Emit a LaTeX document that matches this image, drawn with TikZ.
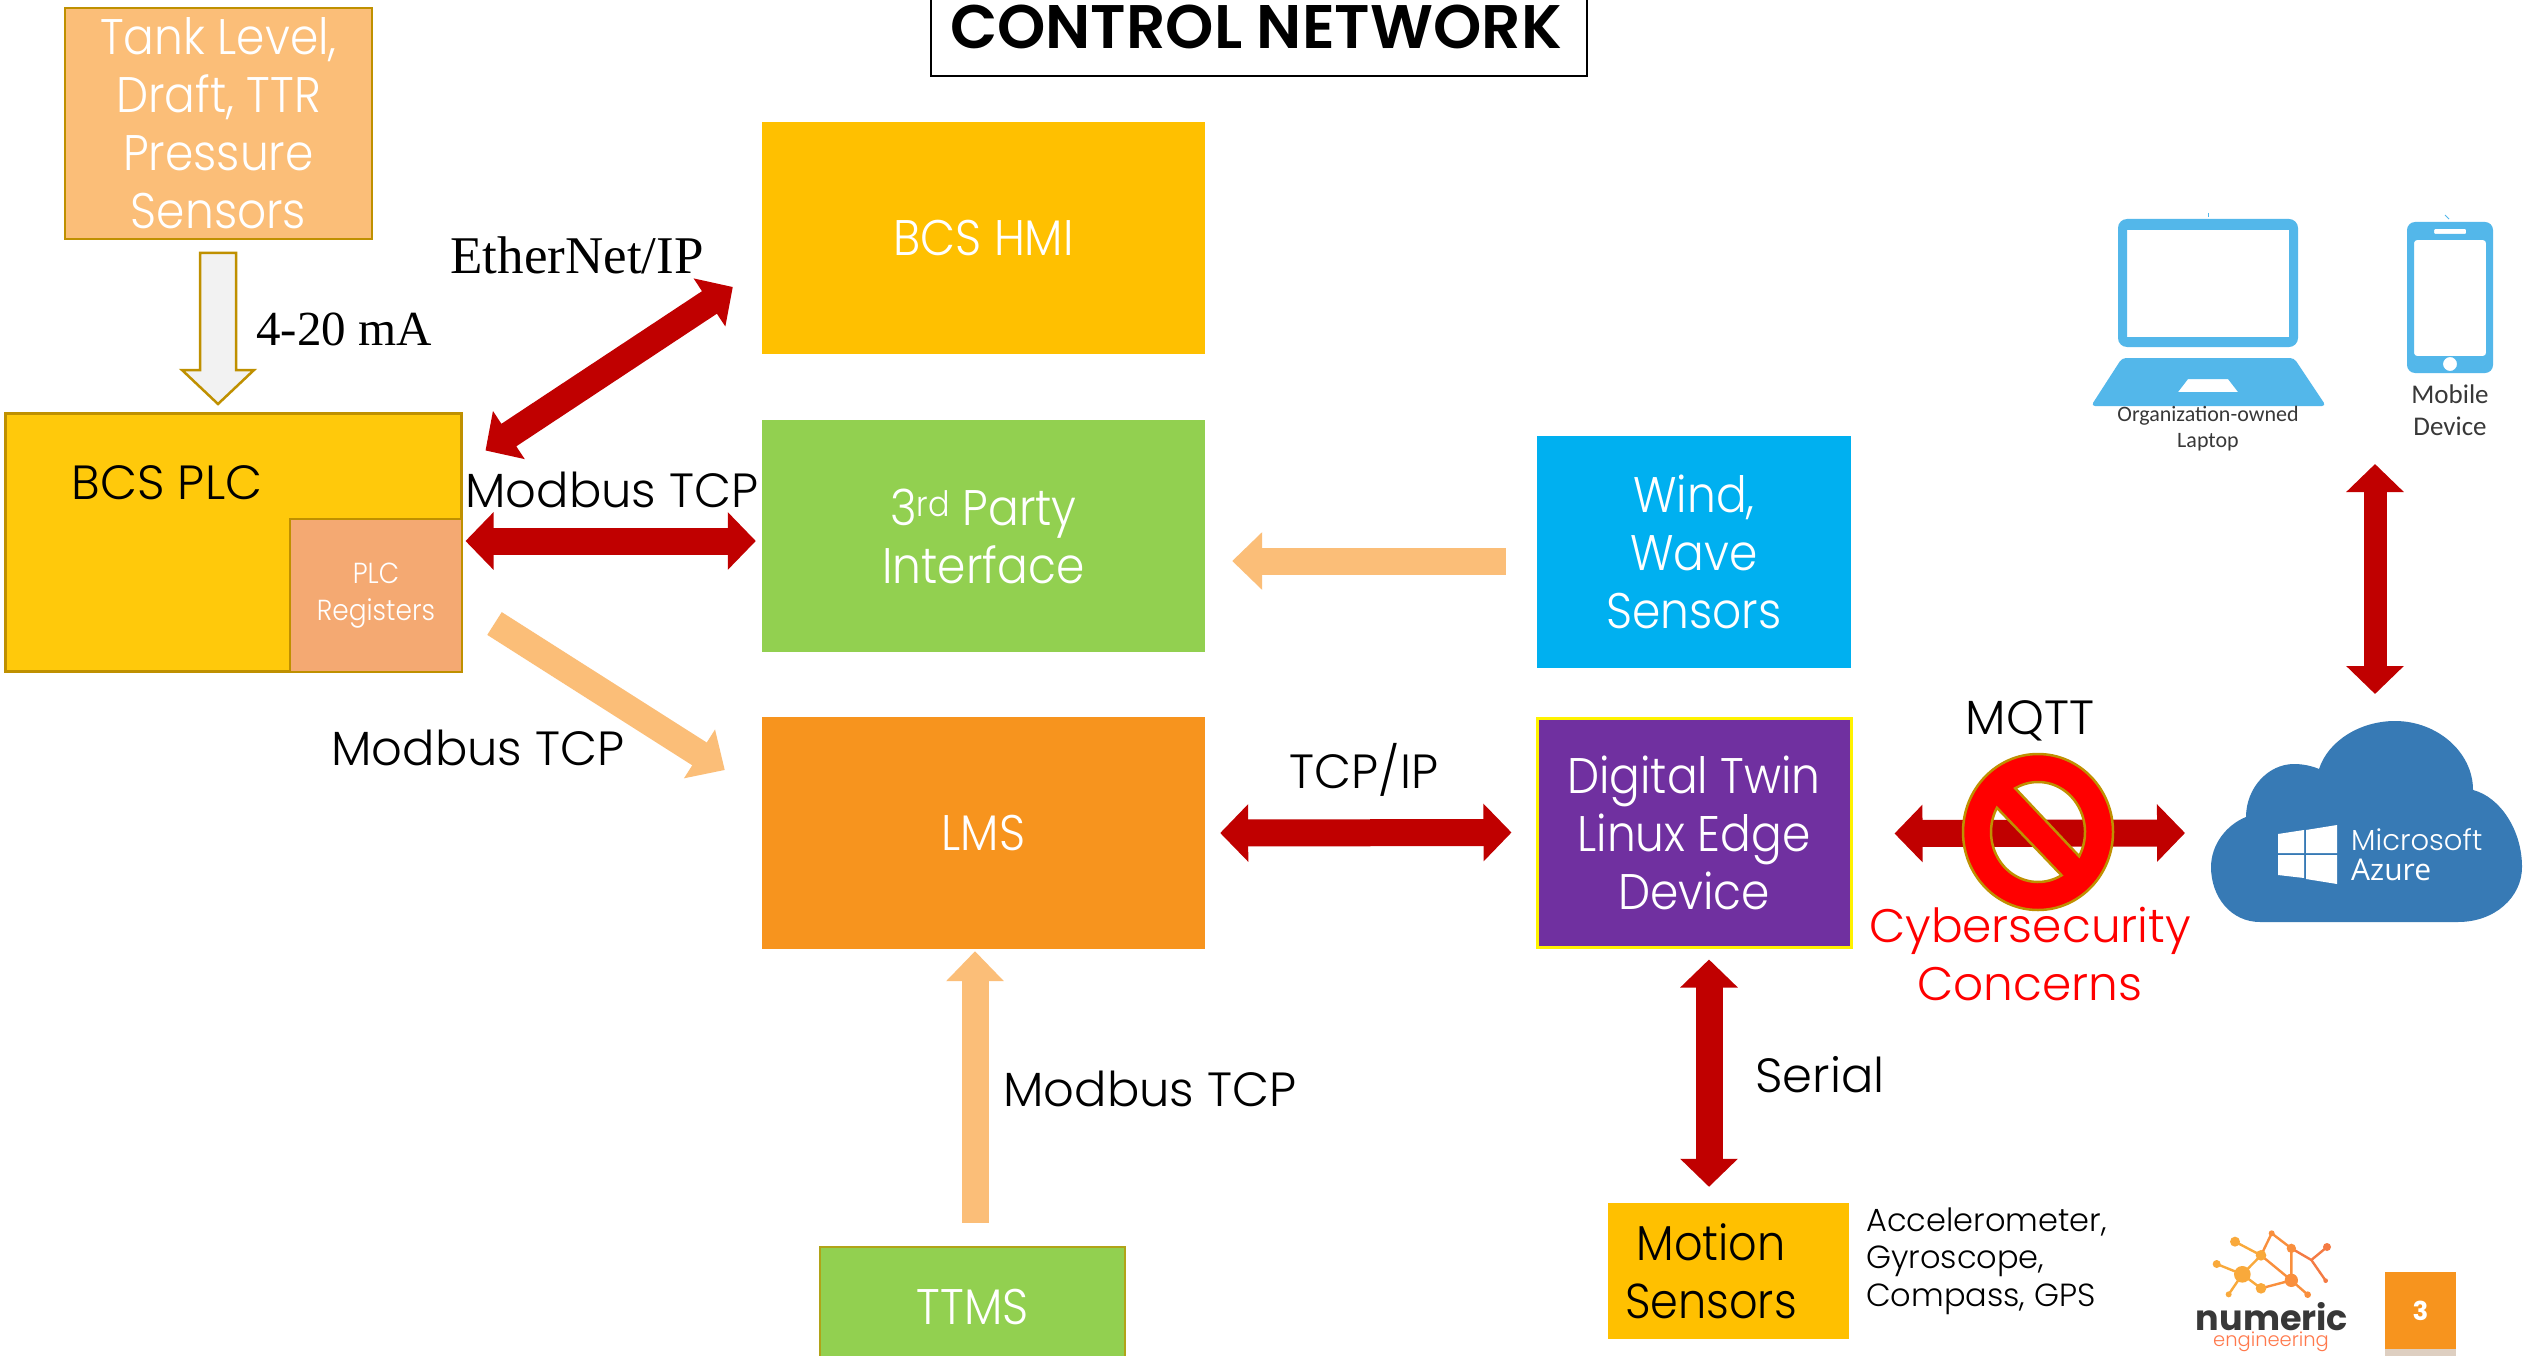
\documentclass[tikz,border=0pt]{standalone}
\usepackage{fontspec}
\usetikzlibrary{arrows.meta,calc}
\setmainfont{Poppins}[UprightFont=* Light,BoldFont=* SemiBold]
\newfontfamily\narrowg{Poppins}[UprightFont=* Light,FakeStretch=0.91]
\newfontfamily\cambriaish{Liberation Serif}
\newfontfamily\calib{Carlito}
\newfontfamily\azfont{Open Sans}
\newfontfamily\boldsans{Poppins}[UprightFont=* Bold]
\newcommand\fsz[2]{\fontsize{#1}{#2}\selectfont}
\definecolor{tankc}{HTML}{FBBE78}
\definecolor{goldb}{HTML}{BF9000}
\definecolor{amber}{HTML}{FFC000}
\definecolor{plcc}{HTML}{FFC90B}
\definecolor{regc}{HTML}{F4A972}
\definecolor{grn}{HTML}{92D050}
\definecolor{lmsc}{HTML}{F7941E}
\definecolor{windc}{HTML}{00B0F0}
\definecolor{purp}{HTML}{7030A0}
\definecolor{dred}{HTML}{C00000}
\definecolor{icon}{HTML}{53B7EA}
\definecolor{cloudc}{HTML}{377AB5}
\tikzset{
  x=1pt,y=-1pt,
  boxn/.style={rectangle,inner sep=0pt,align=center,text=white,font=\narrowg\fsz{50}{58}},
  lab/.style={inner sep=0pt,text=black,font=\fsz{48}{58}},
  serlab/.style={inner sep=0pt,text=black,font=\cambriaish\fsz{50}{58}},
  redarrow/.style={draw=dred,line width=27pt,{Triangle[length=28pt,width=56pt]}-{Triangle[length=28pt,width=56pt]}},
  orarrow/.style={draw=tankc,line width=27pt,-{Triangle[length=30pt,width=56pt]}},
}
\begin{document}
\begin{tikzpicture}
\useasboundingbox (0,0) rectangle (2526,1356);
\clip (0,0) rectangle (2526,1356);
\fill[white] (0,0) rectangle (2526,1356);

% title
\node[rectangle,draw=black,line width=2.5pt,minimum width=656pt,minimum height=116pt,inner sep=0pt] (title) at (1259,18) {};
\node[inner sep=0pt,font=\bfseries\fsz{61.5}{60}] (titletext) at (1256,27) {CONTROL NETWORK};

% boxes
\node[boxn,fill=tankc,draw=goldb,line width=2.5pt,minimum width=307pt,minimum height=231pt] (tank) at (218.5,123.5) {\raisebox{-2pt}{Tank Level,}\\\raisebox{-2pt}{Draft, TTR}\\\raisebox{-2pt}{Pressure}\\\raisebox{-2pt}{Sensors}};
\node[boxn,fill=plcc,draw=goldb,line width=3pt,minimum width=456pt,minimum height=258pt] (plc) at (233,542) {};
\node[boxn,fill=regc,draw=goldb,line width=2.5pt,minimum width=172pt,minimum height=153pt,font=\narrowg\fsz{29}{37}] (reg) at (376,595.5) {\raisebox{-4pt}{PLC}\\\raisebox{-4pt}{Registers}};
\node[lab] (plclabel) at (167,483) {BCS PLC};
\node[boxn,fill=amber,minimum width=443pt,minimum height=232pt] (hmi) at (983.5,238) {\raisebox{-3pt}{BCS HMI}};
\node[boxn,fill=grn,minimum width=443pt,minimum height=232pt] (tp) at (983.5,536) {3\textsuperscript{rd} Party\\Interface};
\node[boxn,fill=lmsc,minimum width=443pt,minimum height=232pt] (lms) at (983.5,833) {\raisebox{-1pt}{LMS}};
\node[boxn,fill=windc,minimum width=314pt,minimum height=232pt] (wind) at (1694,552) {Wind,\\Wave\\Sensors};
\node[boxn,fill=purp,draw=yellow,line width=3pt,minimum width=314pt,minimum height=229pt] (dt) at (1694,832.5) {Digital Twin\\Linux Edge\\Device};
\node[boxn,fill=amber,minimum width=241pt,minimum height=136pt] (motion) at (1728.5,1271) {};
\node[inner sep=0pt,text=black,align=center,font=\narrowg\fsz{49}{58}] (motionlabel) at (1711,1271) {Motion\\Sensors};
\node[boxn,fill=grn,draw=goldb!70!grn,line width=2.5pt,minimum width=305pt,minimum height=123pt] (ttms) at (972.5,1308.5) {\raisebox{3pt}{TTMS}};

% cloud
\path[fill=cloudc] (2260,922) .. controls (2231,922) and (2211,897) .. (2211,867) .. controls (2211,845) and (2226,825) .. (2246,817) .. controls (2246,788) and (2268,764) .. (2294,764) .. controls (2303,764) and (2312,766) .. (2319,769) .. controls (2328,741) and (2360,721) .. (2395,721) .. controls (2437,721) and (2473,752) .. (2473,790) .. controls (2500,797) and (2522,830) .. (2522,867) .. controls (2522,897) and (2495,922) .. (2458,922) -- cycle;
\fill[white] (2278,834) -- (2304,830) -- (2304,853) -- (2278,853) -- cycle;
\fill[white] (2306,830) -- (2337,825) -- (2337,853) -- (2306,853) -- cycle;
\fill[white] (2278,855) -- (2304,855) -- (2304,878) -- (2278,875) -- cycle;
\fill[white] (2306,855) -- (2337,855) -- (2337,884) -- (2306,879) -- cycle;
\node[inner sep=0pt,anchor=west,text=white,font=\fsz{29}{29}] (ms) at (2351,840) {Microsoft};
\node[inner sep=0pt,anchor=west,text=white,font=\azfont\fsz{30}{30}] (azure) at (2351,870) {Azure};
\coordinate (cloudtop) at (2375,721);

% laptop
\fill[icon,even odd rule,rounded corners=9pt] (2118,219) rectangle (2298,347) (2127,230) [sharp corners] rectangle (2289,337);
\fill[icon,even odd rule] [rounded corners=4pt] (2122,358) -- (2294,358) -- (2326,406) -- (2091,406) -- cycle [sharp corners] (2188,379) -- (2228,379) -- (2238,392) -- (2178,392) -- cycle;
\draw[icon,line width=1pt] (2208,213) -- (2208,217);
\node[inner sep=0pt,align=center,text=black!78,font=\calib\fsz{22}{26}] (laptoplabel) at (2208,429) {Organization-owned\\Laptop};
% phone
\fill[icon,even odd rule,rounded corners=8pt] (2407,222) rectangle (2493,373) [rounded corners=3pt] (2414,240) rectangle (2486,356) [rounded corners=1pt] (2434,229) rectangle (2466,234) [sharp corners] (2450,364) circle (7);
\draw[icon,line width=1pt] (2445,215) -- (2449,219);
\node[inner sep=0pt,align=center,text=black!78,font=\calib\fsz{27}{32}] (phonelabel) at (2450,410) {Mobile\\Device};

% logo
\begin{scope}[shift={(2150,1190)},x=0.3333pt,y=-0.3333pt]
\definecolor{la}{HTML}{F9A93B}\definecolor{lb}{HTML}{F98F3D}\definecolor{lc}{HTML}{F47B44}
\draw[la,line width=2.4pt] (255,155) -- (333,196) (200,222) -- (277,253) (277,253) -- (236,313) (277,253) -- (333,196) (277,253) -- (333,295);
\draw[lb,line width=2.4pt] (333,196) -- (365,130) -- (424,175) (333,196) -- (424,271) (424,175) -- (424,271) (333,295) -- (424,271) (424,271) -- (473,314);
\draw[lc,line width=2.4pt] (424,175) -- (484,210) -- (531,171) (484,210) -- (527,272);
\fill[la] (255,155) circle (15) (200,222) circle (12) (277,253) circle (25) (236,313) circle (9) (333,196) circle (16) (333,295) circle (16);
\fill[lb] (365,130) circle (9) (424,175) circle (14) (424,271) circle (20) (473,314) circle (10);
\fill[lc] (531,171) circle (12) (527,272) circle (7);
\end{scope}
\node[inner sep=0pt,text=black!78,font=\boldsans\fsz{35}{35}] (numeric) at (2272,1317) {numeric};
\node[inner sep=0pt,text=red!50!orange!70,font=\fsz{19.5}{20}] (engineering) at (2271,1342) {engineering};
\node[rectangle,fill=lmsc,minimum width=71pt,minimum height=77pt,inner sep=0pt,text=white,font=\boldsans\fsz{26}{26}] (page) at (2420.5,1310.5) {3};
\fill[black!25!brown!30] (2385,1349) rectangle (2456,1356);

% 4-20 mA arrow
\draw[goldb,fill=black!5,line width=2.5pt] (200,253) -- (236,253) -- (236,370) -- (254,370) -- (218,404) -- (182,370) -- (200,370) -- cycle;

% connectors
\draw[redarrow] ([shift={(23,39)}]plc.north east) -- ([shift={(-29,49)}]hmi.west);
\draw[redarrow] ([shift={(3,-1)}]plc.east) -- ([shift={(-6,5)}]tp.west);
\draw[orarrow] ([shift={(32,-49)}]plc.south east) -- ([shift={(-37,-63)}]lms.west);
\draw[orarrow] ([shift={(-31,9)}]wind.west) -- ([shift={(27,25)}]tp.east);
\draw[redarrow] ([shift={(15,0)}]lms.east) -- ([shift={(-24,0)}]dt.west);
\draw[orarrow] ([shift={(2.5,-23)}]ttms.north) -- ([shift={(-8.5,2)}]lms.south);
\draw[redarrow] ([shift={(15,11)}]dt.south) -- ([shift={(-19.5,-16)}]motion.north);
\draw[redarrow] ([shift={(42,1)}]dt.east) -- (2185,833);
\draw[redarrow,line width=23pt] ([shift={(0,-27)}]cloudtop) -- (2375,464);

% no sign
\begin{scope}[shift={(2038,832)}]
\fill[red,draw=goldb,line width=2.5pt,even odd rule] (0,0) ellipse [x radius=75,y radius=78]
  plot[domain=-119:29,samples=40,smooth] ({47*cos(\x)},{50*sin(\x)}) -- cycle
  plot[domain=60:209,samples=40,smooth] ({47*cos(\x)},{50*sin(\x)}) -- cycle;
\end{scope}

% labels
\node[serlab,font=\cambriaish\fsz{53}{58}] (l1) at (577,255) {EtherNet/IP};
\node[serlab,font=\cambriaish\fsz{49}{58}] (l2) at (344,329) {4-20 mA};
\node[lab] (l3) at (612,490) {Modbus TCP};
\node[lab] (l4) at (478,748) {Modbus TCP};
\node[lab] (l5) at (1364,770) {TCP/IP};
\node[lab] (l6) at (2030,721) {MQTT};
\node[lab] (l7) at (1820,1075) {Serial};
\node[lab] (l8) at (1150,1089) {Modbus TCP};
\node[lab,text=red,align=center,font=\fsz{47}{58}] (l9) at (2030,954) {Cybersecurity\\Concerns};
\node[inner sep=0pt,anchor=west,align=left,font=\fsz{32}{37.5}] (l10) at (1866,1261) {Accelerometer,\\Gyroscope,\\Compass, GPS};
\end{tikzpicture}
\end{document}
